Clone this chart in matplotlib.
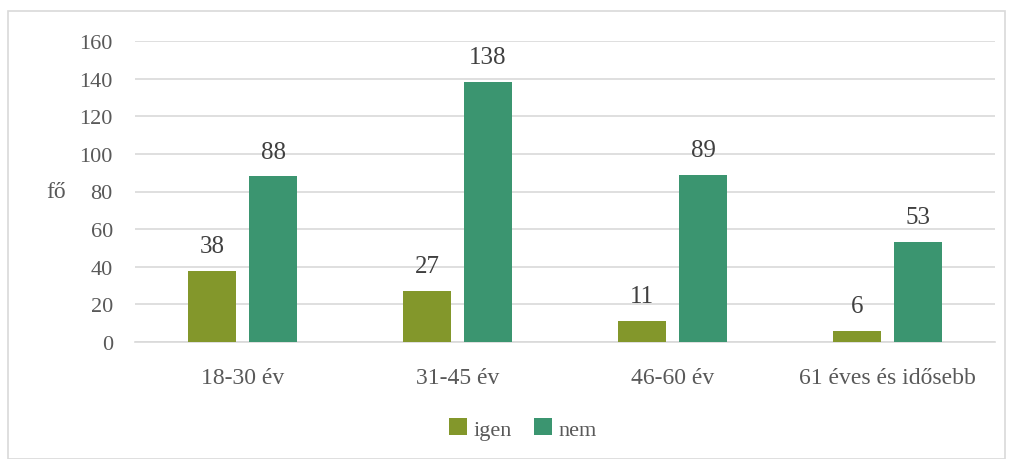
import numpy as np
import matplotlib.pyplot as plt
from matplotlib.patches import Rectangle

categories = ["18-30 év", "31-45 év", "46-60 év", "61 éves és idősebb"]
igen = [38, 27, 11, 6]
nem = [88, 138, 89, 53]
yticks = [0, 20, 40, 60, 80, 100, 120, 140, 160]

plt.rcParams["font.family"] = ["Liberation Serif", "DejaVu Serif"]

fig = plt.figure(figsize=(10.09, 4.60), dpi=100)
ax = fig.add_axes([135 / 1009, 1 - 343 / 460, 860 / 1009, 301 / 460])

x = np.arange(len(categories))
w = 0.223
off = 0.142
b1 = ax.bar(x - off, igen, w, color="#83972b", label="igen", zorder=3)
b2 = ax.bar(x + off, nem, w, color="#3b9570", label="nem", zorder=3)

for bars in (b1, b2):
    for r in bars:
        ax.annotate(f"{int(r.get_height())}", (r.get_x() + r.get_width() / 2, r.get_height()),
                    xytext=(0, 10), textcoords="offset points", ha="center", va="bottom",
                    fontsize=18, color="#404040")

ax.set_xlim(-0.5, len(categories) - 0.5)
ax.set_ylim(0, 160)
ax.set_yticks(yticks)
ax.set_xticks(x)
ax.set_xticklabels(categories)
ax.grid(axis="y", color="#d9d9d9", lw=1.2, zorder=0)
for s in ["top", "right", "left"]:
    ax.spines[s].set_visible(False)
ax.spines["bottom"].set_color("#d9d9d9")
ax.spines["bottom"].set_linewidth(1.2)
ax.tick_params(length=0, labelcolor="#595959")
ax.tick_params(axis="y", pad=16, labelsize=16)
ax.tick_params(axis="x", pad=18, labelsize=17)

ax.set_ylabel("fő", rotation=0, fontsize=17, color="#595959", va="center")
ax.yaxis.set_label_coords(-0.092, 0.5)

fig.legend(loc="center", bbox_to_anchor=(0.518, 1 - 430 / 460), ncol=2, frameon=False,
           fontsize=16, labelcolor="#595959", handlelength=0.8, handleheight=0.8,
           handletextpad=0.3, columnspacing=1.0)

fig.patches.append(Rectangle((8 / 1009, 0), 997 / 1009, 1 - 12 / 460, transform=fig.transFigure,
                             fill=False, edgecolor="#d9d9d9", lw=1.2))

fig.savefig("out.png", dpi=100)
